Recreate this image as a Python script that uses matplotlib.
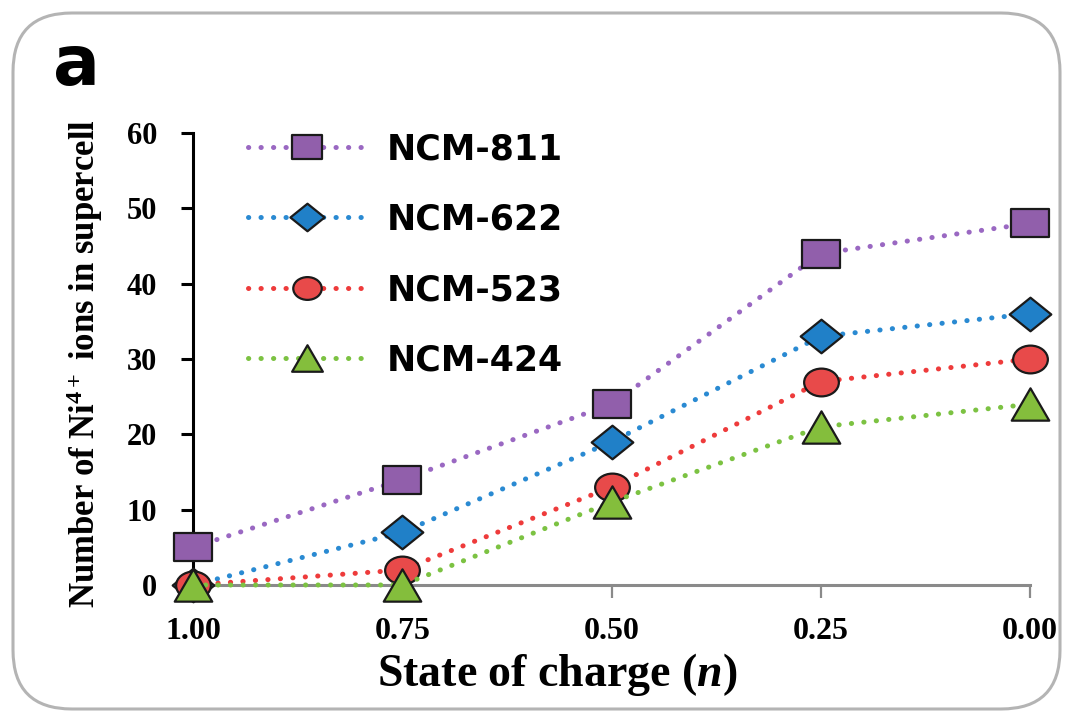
import numpy as np
import matplotlib
matplotlib.use("Agg")
import matplotlib.pyplot as plt
from matplotlib.path import Path
from matplotlib.patches import FancyBboxPatch
from matplotlib.transforms import Affine2D

# data
soc = [1.00, 0.75, 0.50, 0.25, 0.00]
ncm811 = [5, 14, 24, 44, 48]
ncm622 = [0, 7, 19, 33, 36]
ncm523 = [0, 2, 13, 27, 30]
ncm424 = [0, 0, 11, 21, 24]
names = ["NCM-811", "NCM-622", "NCM-523", "NCM-424"]
xticks = [1.00, 0.75, 0.50, 0.25, 0.00]
yticks = [0, 10, 20, 30, 40, 50, 60]

plt.rcParams["mathtext.fontset"] = "custom"
plt.rcParams["mathtext.rm"] = "Liberation Serif:bold"
plt.rcParams["mathtext.bf"] = "Liberation Serif:bold"
plt.rcParams["mathtext.it"] = "Liberation Serif:bold:italic"

# markers look a bit stretched sideways in the original
sq = Path([(-0.66, -0.5), (0.66, -0.5), (0.66, 0.5), (-0.66, 0.5), (-0.66, -0.5)], closed=True)
dia = Path([(-0.62, 0), (0, -0.5), (0.62, 0), (0, 0.5), (-0.62, 0)], closed=True)
circ = Path.unit_circle().transformed(Affine2D().scale(1.25, 1.0))
tri = Path([(-0.58, -0.5), (0.58, -0.5), (0, 0.5), (-0.58, -0.5)], closed=True)

styles = [
    (ncm811, sq, "#915fab", "#9a68c2", 27),
    (ncm622, dia, "#2080c8", "#2a8ad2", 30),
    (ncm523, circ, "#e84a4a", "#ee3b3b", 25),
    (ncm424, tri, "#84be3c", "#7cc242", 27),
]

fig = plt.figure(figsize=(10.72, 7.21), dpi=100)
ax = fig.add_axes([193/1072, 1-585/721, (1030-193)/1072, (585-133)/721])

for (vals, mk, face, lc, ms), name in zip(styles, names):
    ax.plot(soc, vals, color=lc, lw=3.6, linestyle=(0, (0.05, 2.45)),
            dash_capstyle="round", marker=mk, markersize=ms,
            markerfacecolor=face, markeredgecolor="#1a1a1a",
            markeredgewidth=1.6, clip_on=False, label=name, zorder=3)

ax.set_xlim(1.0, 0.0)
ax.set_ylim(0, 60)
ax.set_xticks(xticks)
ax.set_xticklabels(["%.2f" % t for t in xticks])
ax.set_yticks(yticks)

for s in ["top", "right"]:
    ax.spines[s].set_visible(False)
ax.spines["left"].set_color("black")
ax.spines["left"].set_linewidth(2.2)
ax.spines["bottom"].set_color("#8a8a8a")
ax.spines["bottom"].set_linewidth(2.2)
ax.spines["left"].set_zorder(2)

ax.tick_params(axis="y", direction="out", length=9, width=2.2, color="black", pad=17)
ax.tick_params(axis="x", direction="out", length=9, width=1.6, color="#8a8a8a", pad=14)
for lab in ax.get_yticklabels():
    lab.set_fontfamily("Liberation Serif")
    lab.set_fontweight("bold")
    lab.set_fontsize(22)
for lab in ax.get_xticklabels():
    lab.set_fontfamily("Liberation Serif")
    lab.set_fontweight("bold")
    lab.set_fontsize(23)

ax.set_xlabel(r"State of charge ($\mathit{n}$)", fontsize=33,
              fontfamily="Liberation Serif", fontweight="bold")
ax.xaxis.set_label_coords(0.435, -0.145)
ax.set_ylabel(r"Number of Ni$^{4+}$ ions in supercell", fontsize=25,
              fontfamily="Liberation Serif", fontweight="bold")
ax.yaxis.set_label_coords(-0.105, 0.49)

leg = ax.legend(loc="upper left", bbox_to_anchor=(0.066, 1.002), frameon=False,
                prop={"family": "DejaVu Sans", "weight": "bold", "size": 25},
                handlelength=3.37, handletextpad=0.63, labelspacing=1.05,
                borderpad=0, borderaxespad=0, markerscale=0.82)

fig.text(53/1072, 1-85/721, "a", fontsize=50, fontweight="heavy",
         fontfamily="DejaVu Sans", ha="left", va="baseline")

frame = FancyBboxPatch((13/1072, 1-709/721), (1060-13)/1072, (709-13)/721,
                       boxstyle="round,pad=0,rounding_size=0.055",
                       mutation_aspect=1072/721, transform=fig.transFigure,
                       facecolor="none", edgecolor="#b4b4b4", lw=2.2)
fig.patches.append(frame)

fig.savefig("out.png", dpi=100)
